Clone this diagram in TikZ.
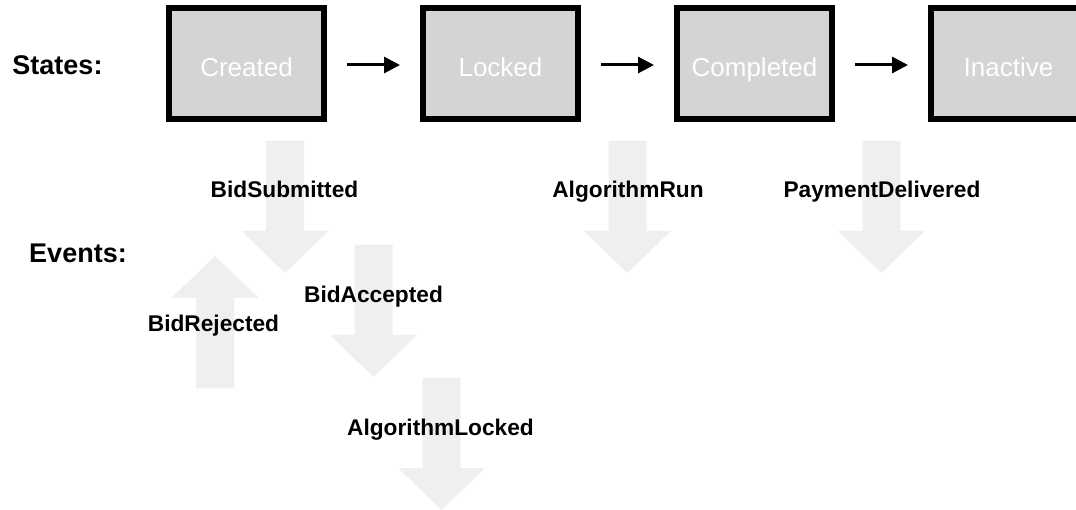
\documentclass[tikz,border=0pt]{standalone}
\usepackage{fontspec}
\setmainfont{Liberation Sans}
\usetikzlibrary{arrows.meta}

\definecolor{statefill}{RGB}{212,211,214}
\definecolor{eventfill}{RGB}{239,239,239}

\tikzset{
  statebox/.style={draw=black, line width=6pt, fill=statefill, inner sep=0pt,
    minimum width=155pt, minimum height=111pt, text=white,
    text height=26pt, text depth=0pt,
    font=\fontsize{26}{26}\selectfont},
  heading/.style={anchor=base, inner sep=0pt, font=\bfseries\fontsize{27}{27}\selectfont},
  eventlabel/.style={anchor=base, inner sep=0pt, font=\bfseries\fontsize{22.7}{22.7}\selectfont},
  transition/.style={line width=3pt, -{Triangle[length=16pt,width=16pt]},
    shorten <=20pt, shorten >=20pt},
  evdown/.pic={\fill[eventfill] (-19,0) -- (19,0) -- (19,90) -- (43.5,90)
      -- (0,132) -- (-43.5,90) -- (-19,90) -- cycle;},
  evup/.pic={\fill[eventfill] (-19,0) -- (19,0) -- (19,-90) -- (43.5,-90)
      -- (0,-132) -- (-43.5,-90) -- (-19,-90) -- cycle;}
}

\begin{document}
\begin{tikzpicture}[x=1pt, y=-1pt]
\clip (0,0) rectangle (1076,510);
\fill[white] (0,0) rectangle (1076,510);

% event arrows (background)
\pic at (285,141) {evdown};
\pic at (373.5,245) {evdown};
\pic at (441.5,378) {evdown};
\pic at (627.5,141) {evdown};
\pic at (881.5,141) {evdown};
\pic at (215,388) {evup};

% headings
\node[heading] (states) at (57.5,75) {States:};
\node[heading] (events) at (78,262.7) {Events:};

% states
\node[statebox] (created)   at (246.5,63.5)  {Created};
\node[statebox] (locked)    at (500.5,63.5)  {Locked};
\node[statebox] (completed) at (754.5,63.5)  {Completed};
\node[statebox] (inactive)  at (1008.5,63.5) {Inactive};

\draw[transition] ([yshift=-1.5pt]created.east)   -- ([yshift=-1.5pt]locked.west);
\draw[transition] ([yshift=-1.5pt]locked.east)    -- ([yshift=-1.5pt]completed.west);
\draw[transition] ([yshift=-1.5pt]completed.east) -- ([yshift=-1.5pt]inactive.west);

% event names
\node[eventlabel] (bidsub)  at (284.5,198) {BidSubmitted};
\node[eventlabel] (algrun)  at (628,198)   {AlgorithmRun};
\node[eventlabel] (paydel)  at (882,198)   {PaymentDelivered};
\node[eventlabel] (bidacc)  at (373.5,303) {BidAccepted};
\node[eventlabel] (bidrej)  at (213.5,332) {BidRejected};
\node[eventlabel] (alglock) at (440.5,435) {AlgorithmLocked};
\end{tikzpicture}
\end{document}
